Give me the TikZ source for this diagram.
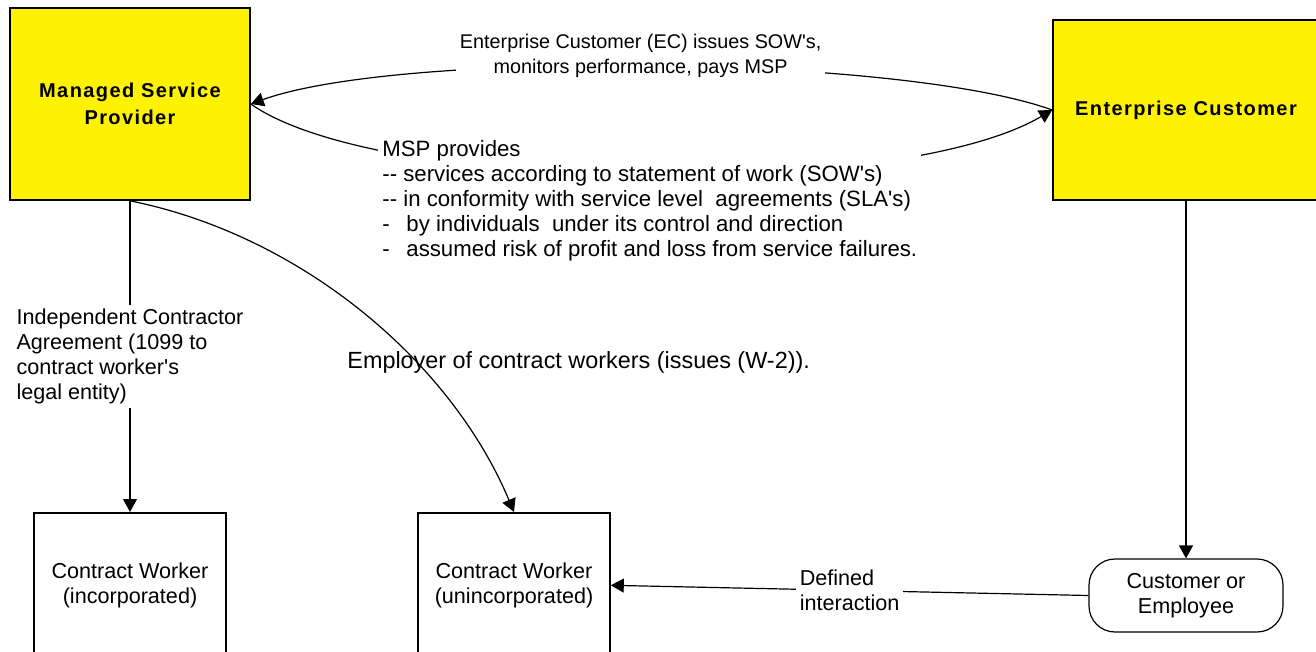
\documentclass[tikz,border=0pt]{standalone}
\usepackage{fontspec}
\newfontfamily\arial{Liberation Sans}
\newfontfamily\arialwide{Liberation Sans}[LetterSpace=7]
\usetikzlibrary{arrows.meta,positioning}

\begin{document}
\begin{tikzpicture}[x=0.5pt,y=-0.5pt,
  every node/.style={font=\arial\fontsize{10.8}{12.5}\selectfont},
  party/.style={draw,line width=0.8pt,fill=yellow,minimum width=120pt,minimum height=96pt,align=center,font=\arialwide\bfseries\fontsize{10}{13.5}\selectfont},
  worker/.style={draw,line width=0.8pt,minimum width=96pt,minimum height=72.5pt,align=center,anchor=north},
  conn/.style={line width=0.6pt},
  arr/.style={conn,-{Triangle[length=6.5pt,width=7pt]}},
  note/.style={align=left,inner sep=2pt},
  gap/.style={note,fill=white}]

\useasboundingbox (0,0) rectangle (1316,652);

\node[party] (msp) at (130,104) {Managed Service\\Provider};
\node[party,minimum width=133pt,minimum height=90pt] (ec) at (1186,110) {Enterprise Customer};

\node[worker] (cwinc) at (130,512) {Contract Worker\\(incorporated)};
\node[worker] (cwuninc) at (514,512) {Contract Worker\\(unincorporated)};
\node[draw,conn,rounded corners=13pt,minimum width=97pt,minimum height=36.5pt,align=center] (cust) at (1186,595.5) {Customer or\\Employee};

% EC and MSP
\draw[arr] (ec.west) .. controls (900,55) and (400,50) .. node[gap,pos=0.51,yshift=5pt,align=center,font=\arial\fontsize{9.9}{12.5}\selectfont] {Enterprise Customer (EC) issues SOW's,\\monitors performance, pays MSP} (msp.east);
\draw[arr] (msp.east) .. controls (380,195) and (900,200) .. (ec.west);
\node[gap,anchor=north west,font=\arial\fontsize{11.1}{12.5}\selectfont] (provides) at (378,136) {MSP provides\\
-{}- services according to statement of work (SOW's)\\
-{}- in conformity with service level\ \ agreements (SLA's)\\
-\hspace{0.75em}by individuals\ \ under its control and direction\\
-\hspace{0.75em}assumed risk of profit and loss from service failures.};

% contract workers
\draw[arr] (msp.south) -- node[gap] {Independent Contractor\\Agreement (1099 to\\contract worker's\\legal entity)} (cwinc.north);
\draw[arr] (msp.south) .. controls (300,235) and (450,360) .. (cwuninc.north);
\node[anchor=base west,inner sep=0pt,font=\arial\fontsize{11.7}{12.5}\selectfont] (employer) at (347,368) {Employer of contract workers (issues (W-2)).};

% customer side
\draw[arr] (ec.south) -- (cust.north);
\draw[arr] (cust.west) -- node[gap] {Defined\\interaction} (cwuninc.east);

\end{tikzpicture}
\end{document}
